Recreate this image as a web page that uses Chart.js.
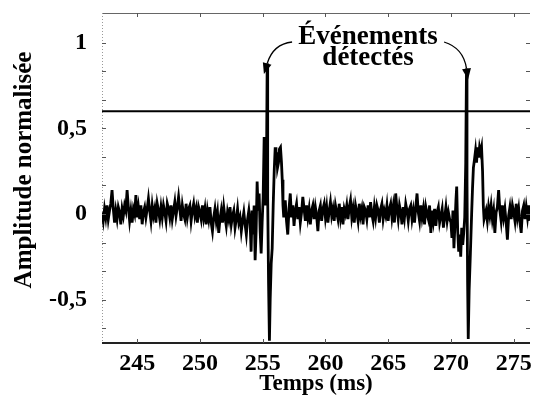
<!DOCTYPE html>
<html>
<head>
<meta charset="utf-8">
<script src="https://cdn.jsdelivr.net/npm/chart.js@4.4.1/dist/chart.umd.min.js"></script>
<style>
  html, body { margin: 0; padding: 0; background: #fff; }
  #wrap { width: 533px; height: 402px; }
</style>
</head>
<body>
<div id="wrap"><canvas id="chart" width="533" height="402"></canvas></div>
<script>
// time axis (ms)
const timeMin = 242.2;
const timeMax = 276.3;
const noiseStep = 0.1;

// baseline noise before first event (starts at 242.2 ms)
const noiseAStart = 242.2;
const noiseA = [
    0.01, -0.04, 0.03, -0.02, 0.05, -0.03, 0.02, 0.06, 0.14, 0.03,
    -0.05, 0.02, -0.03, 0.04, 0.01, -0.06, 0.03, -0.01, 0.05, 0.02,
    0.14, 0.04, -0.04, 0.02, -0.05, 0.03, 0.00, 0.11, -0.02, 0.04,
    -0.03, 0.05, -0.06, 0.01, 0.04, -0.02, 0.03, 0.09, 0.02, -0.04,
    0.05, -0.01, 0.03, -0.05, 0.06, 0.02, -0.03, 0.04, -0.02, 0.05,
    0.01, -0.04, 0.06, 0.03, -0.02, 0.05, -0.03, 0.02, 0.07, -0.01,
    0.04, 0.10, 0.03, -0.04, 0.05, 0.00, -0.03, 0.06, -0.02, 0.03,
    0.05, -0.04, 0.02, 0.06, -0.01, 0.03, -0.05, 0.04, 0.01, -0.03,
    0.05, -0.02, 0.03, -0.06, 0.02, -0.03, 0.04, -0.05, -0.10, -0.02,
    0.03, -0.04, 0.01, -0.11, -0.03, 0.02, -0.05, 0.04, -0.02, -0.07,
    0.01, -0.03, 0.04, -0.06, -0.01, 0.02, -0.08, -0.03, 0.03, -0.05,
    -0.02, -0.10, -0.04, 0.01, -0.06, -0.12, -0.03, 0.02,
];

// first detected event
const event1Times = [
    254.00, 254.08, 254.16, 254.24, 254.32, 254.40, 254.48, 254.56, 254.64, 254.72,
    254.80, 254.88, 254.96, 255.04, 255.12, 255.20, 255.30, 255.36, 255.40, 255.47,
    255.54, 255.60, 255.68, 255.76, 255.84, 255.92, 256.00, 256.06, 256.12, 256.18,
    256.26, 256.34, 256.42, 256.50, 256.56, 256.62, 256.68, 256.74,
];
const event1Values = [
    -0.05, -0.22, 0.02, -0.12, 0.05, -0.27, -0.10, 0.19, 0.02, 0.12,
    -0.10, -0.23, -0.05, 0.10, 0.45, 0.05, 0.20, 0.88, 0.10, -0.40,
    -0.74, -0.50, -0.29, -0.20, 0.05, 0.25, 0.39, 0.30, 0.36, 0.27,
    0.30, 0.38, 0.39, 0.30, 0.20, 0.05, -0.02, 0.04,
];

// baseline noise between events (starts at 256.8 ms)
const noiseBStart = 256.8;
const noiseB = [
    0.08, -0.04, -0.12, 0.03, 0.12, -0.02, 0.05, -0.07, 0.02, 0.06,
    -0.03, 0.04, -0.05, 0.01, 0.10, 0.03, -0.04, 0.05, -0.02, 0.03,
    -0.06, 0.02, 0.05, -0.03, 0.04, -0.01, -0.10, 0.02, 0.05, -0.04,
    0.03, 0.06, -0.02, 0.04, -0.05, 0.02, 0.07, -0.01, 0.03, -0.04,
    0.05, 0.01, -0.03, 0.06, -0.02, 0.04, -0.06, 0.03, 0.00, 0.05,
    -0.03, 0.04, 0.08, -0.02, 0.03, -0.05, 0.05, 0.01, -0.04, 0.06,
    -0.01, 0.03, -0.06, 0.04, 0.02, -0.03, 0.05, -0.02, 0.07, 0.00,
    -0.04, 0.04, -0.02, 0.05, 0.02, -0.05, 0.03, 0.06, -0.03, 0.02,
    -0.01, 0.05, -0.04, 0.03, 0.06, -0.02, 0.04, -0.05, 0.12, 0.03,
    -0.03, 0.05, 0.01, -0.06, 0.04, -0.02, 0.06, 0.02, -0.04, 0.03,
    0.05, -0.03, 0.02, -0.05, 0.04, 0.12, 0.01, -0.04, 0.05, -0.02,
    0.03, -0.06, 0.04, 0.00, -0.03, 0.05, -0.11, 0.02, -0.04, 0.03,
    -0.07, 0.01, 0.04, -0.05, -0.01, 0.03, -0.08, -0.02, 0.04, -0.04,
    0.01, -0.03,
];

// second detected event
const event2Times = [
    270.00, 270.08, 270.16, 270.24, 270.32, 270.40, 270.46, 270.54, 270.62, 270.70,
    270.78, 270.86, 270.94, 271.02, 271.10, 271.18, 271.24, 271.28, 271.33, 271.38,
    271.45, 271.55, 271.65, 271.72, 271.79, 271.88, 271.96, 272.04, 272.12, 272.20,
    272.28, 272.36, 272.44, 272.52, 272.58, 272.64,
];
const event2Values = [
    -0.05, -0.14, 0.02, -0.20, -0.06, 0.08, 0.16, -0.10, -0.22, -0.12,
    -0.25, -0.08, -0.18, -0.11, -0.02, 0.30, 0.85, 0.20, -0.40, -0.73,
    -0.45, -0.23, 0.00, 0.15, 0.27, 0.32, 0.37, 0.30, 0.39, 0.33,
    0.39, 0.36, 0.39, 0.25, 0.05, -0.03,
];

// baseline noise after second event (starts at 272.7 ms)
const noiseCStart = 272.7;
const noiseC = [
    -0.03, 0.02, -0.04, 0.04, -0.01, 0.05, -0.03, 0.02, -0.11, 0.01,
    0.04, 0.14, 0.02, -0.04, 0.05, -0.02, 0.03, -0.05, -0.15, -0.01,
    0.04, -0.03, 0.05, 0.01, -0.04, 0.06, -0.02, 0.03, -0.05, -0.11,
    0.02, 0.05, -0.03, 0.04, -0.02, 0.05, -0.04,
];

const threshold = 0.6;

// events pointed at by the arrows
const eventTimes = [255.36, 271.24];
const eventPeaks = [0.88, 0.85];

// axis ticks
const xTicks = [245, 250, 255, 260, 265, 270, 275];
const yTickValues = [-2 / 3, -0.5, -1 / 3, -1 / 6, 0, 1 / 6, 1 / 3, 0.5, 2 / 3, 5 / 6, 1];
const yTickLabels = { '-0.5': '-0,5', '0': '0', '0.5': '0,5', '1': '1' };

const yMin = -0.754;
const yMax = 1.175;

const serif = '"Liberation Serif", "Times New Roman", serif';

function noisePoints(start, values) {
    return values.map((v, i) => ({ x: start + i * noiseStep, y: v }));
}

const signal = [
    ...noisePoints(noiseAStart, noiseA),
    ...event1Times.map((t, i) => ({ x: t, y: event1Values[i] })),
    ...noisePoints(noiseBStart, noiseB),
    ...event2Times.map((t, i) => ({ x: t, y: event2Values[i] })),
    ...noisePoints(noiseCStart, noiseC),
];

const frameAndTicks = {
    id: 'frameAndTicks',
    beforeDatasetsDraw(chart) {
        const { ctx, chartArea: a } = chart;
        ctx.save();
        // top border
        ctx.strokeStyle = '#666';
        ctx.lineWidth = 1;
        ctx.beginPath();
        ctx.moveTo(a.left, a.top + 0.5);
        ctx.lineTo(a.right, a.top + 0.5);
        ctx.stroke();
        // left border (faint, dotted)
        ctx.strokeStyle = '#999';
        ctx.setLineDash([1, 2]);
        ctx.beginPath();
        ctx.moveTo(a.left + 0.5, a.top);
        ctx.lineTo(a.left + 0.5, a.bottom);
        ctx.stroke();
        ctx.setLineDash([]);
        ctx.restore();
    },
    afterDatasetsDraw(chart) {
        const { ctx, chartArea: a, scales } = chart;
        ctx.save();
        // bottom axis line
        ctx.strokeStyle = '#222';
        ctx.lineWidth = 2;
        ctx.beginPath();
        ctx.moveTo(a.left, a.bottom);
        ctx.lineTo(a.right, a.bottom);
        ctx.stroke();
        // inward ticks
        ctx.strokeStyle = '#555';
        ctx.lineWidth = 1;
        ctx.beginPath();
        yTickValues.forEach((v) => {
            const y = Math.round(scales.y.getPixelForValue(v)) + 0.5;
            ctx.moveTo(a.left, y);
            ctx.lineTo(a.left + 4, y);
            ctx.moveTo(a.right - 4, y);
            ctx.lineTo(a.right, y);
        });
        xTicks.forEach((t) => {
            const x = Math.round(scales.x.getPixelForValue(t)) + 0.5;
            ctx.moveTo(x, a.bottom);
            ctx.lineTo(x, a.bottom - 4);
            ctx.moveTo(x, a.top);
            ctx.lineTo(x, a.top + 4);
        });
        ctx.stroke();
        ctx.restore();
    },
};

function drawArrow(ctx, x0, y0, cx, cy, x1, y1) {
    ctx.beginPath();
    ctx.moveTo(x0, y0);
    ctx.quadraticCurveTo(cx, cy, x1, y1);
    ctx.stroke();
    const ang = Math.atan2(y1 - cy, x1 - cx);
    const len = 11;
    const half = 4.5;
    const tx = x1 + Math.cos(ang) * len;
    const ty = y1 + Math.sin(ang) * len;
    ctx.beginPath();
    ctx.moveTo(tx, ty);
    ctx.lineTo(x1 + Math.cos(ang + Math.PI / 2) * half, y1 + Math.sin(ang + Math.PI / 2) * half);
    ctx.lineTo(x1 + Math.cos(ang - Math.PI / 2) * half, y1 + Math.sin(ang - Math.PI / 2) * half);
    ctx.closePath();
    ctx.fill();
}

const textLayer = {
    id: 'textLayer',
    afterDraw(chart) {
        const { ctx, scales } = chart;
        const cx = scales.x.getPixelForValue(263.4);
        ctx.save();
        ctx.fillStyle = '#000';
        ctx.strokeStyle = '#000';
        ctx.font = `bold 27px ${serif}`;
        ctx.textAlign = 'center';
        ctx.textBaseline = 'alphabetic';
        ctx.fillText('Événements', cx, 44);
        ctx.fillText('détectés', cx, 65);
        ctx.lineWidth = 1.3;
        const p1x = scales.x.getPixelForValue(eventTimes[0]);
        const p1y = scales.y.getPixelForValue(eventPeaks[0]);
        const p2x = scales.x.getPixelForValue(eventTimes[1]);
        const p2y = scales.y.getPixelForValue(eventPeaks[1]);
        drawArrow(ctx, cx - 76, 42, p1x + 6, 44, p1x, p1y);
        drawArrow(ctx, cx + 76, 42, p2x - 3, 48, p2x, p2y);

        // y axis title
        ctx.save();
        ctx.translate(31, 170);
        ctx.rotate(-Math.PI / 2);
        ctx.font = `bold 25px ${serif}`;
        ctx.textAlign = 'center';
        ctx.textBaseline = 'alphabetic';
        ctx.fillText('Amplitude normalisée', 0, 0);
        ctx.restore();
        ctx.restore();
    },
};

new Chart(document.getElementById('chart'), {
    type: 'line',
    data: {
        datasets: [
            {
                label: 'Signal',
                data: signal,
                borderColor: '#000',
                borderWidth: 2.8,
                pointRadius: 0,
                tension: 0,
            },
            {
                label: 'Seuil',
                data: [
                    { x: timeMin, y: threshold },
                    { x: timeMax, y: threshold },
                ],
                borderColor: '#000',
                borderWidth: 2,
                pointRadius: 0,
            },
        ],
    },
    options: {
        responsive: false,
        animation: false,
        parsing: false,
        layout: {
            padding: { top: 13, right: 3, left: 0, bottom: 0 },
        },
        plugins: {
            legend: { display: false },
            tooltip: { enabled: false },
        },
        scales: {
            x: {
                type: 'linear',
                min: timeMin,
                max: timeMax,
                afterBuildTicks: (scale) => {
                    scale.ticks = xTicks.map((v) => ({ value: v }));
                },
                afterFit: (scale) => {
                    scale.height = 59;
                    scale.paddingLeft = 0;
                    scale.paddingRight = 0;
                },
                grid: { display: false, drawTicks: false },
                border: { display: false },
                ticks: {
                    color: '#000',
                    padding: 6,
                    maxRotation: 0,
                    autoSkip: false,
                    font: { family: serif, size: 24, weight: 'bold' },
                    callback: (v) => String(v),
                },
                title: {
                    display: true,
                    text: 'Temps (ms)',
                    color: '#000',
                    padding: { top: 0, bottom: 4 },
                    font: { family: serif, size: 23, weight: 'bold' },
                },
            },
            y: {
                type: 'linear',
                min: yMin,
                max: yMax,
                afterBuildTicks: (scale) => {
                    scale.ticks = yTickValues.map((v) => ({ value: v }));
                },
                afterFit: (scale) => {
                    scale.width = 102;
                    scale.paddingTop = 0;
                    scale.paddingBottom = 0;
                },
                grid: { display: false, drawTicks: false },
                border: { display: false },
                ticks: {
                    color: '#000',
                    padding: 15,
                    autoSkip: false,
                    font: { family: serif, size: 24, weight: 'bold' },
                    callback: (v) => yTickLabels[String(Math.round(v * 1000) / 1000)] ?? '',
                },
            },
        },
    },
    plugins: [frameAndTicks, textLayer],
});
</script>
</body>
</html>
